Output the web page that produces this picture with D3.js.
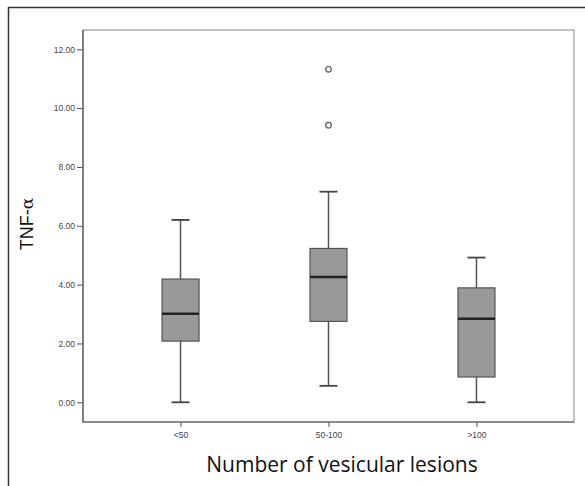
<!DOCTYPE html>
<html><head><meta charset="utf-8">
<script src="https://cdn.jsdelivr.net/npm/d3@7"></script>
<style>body{margin:0;background:#fff}svg{display:block}</style>
</head><body>
<script>
const categories = ["<50", "50-100", ">100"];
const whiskerLow = [0.00, 0.56, 0.00];
const q1 = [2.08, 2.75, 0.86];
const median = [3.01, 4.26, 2.84];
const q3 = [4.19, 5.23, 3.89];
const whiskerHigh = [6.20, 7.16, 4.92];
const outliers = [[], [9.42, 11.32], []];
const yTicks = [0, 2, 4, 6, 8, 10, 12];

const W = 585, H = 486;
const L = 83, R = 574, T = 30, B = 422;
const svg = d3.select("body").append("svg").attr("width", W).attr("height", H);

// outer frame
svg.append("path").attr("d", `M8.5,${H} V7.5 H${W}`).attr("fill", "none").attr("stroke", "#333").attr("stroke-width", 1.5);

const y = d3.scaleLinear().domain([0, 12]).range([402.3, 49.3]);
const x = d3.scalePoint().domain(categories).range([L, R]).padding(0.659);

// plot frame
svg.append("rect").attr("x", L).attr("y", T).attr("width", R - L).attr("height", B - T)
  .attr("fill", "none").attr("stroke", "#999").attr("stroke-width", 1.2);
svg.append("path").attr("d", `M${L},${T} V${B} H${R}`).attr("fill", "none").attr("stroke", "#555").attr("stroke-width", 1.2);

const yAxis = svg.append("g").attr("transform", `translate(${L},0)`)
  .call(d3.axisLeft(y).tickValues(yTicks).tickFormat(d3.format(".2f")).tickSize(6).tickSizeOuter(0));
yAxis.select(".domain").remove();
yAxis.selectAll("line").attr("stroke", "#555");
yAxis.selectAll("text").attr("font-family", "Liberation Sans, Arial, sans-serif").attr("font-size", 8.5).attr("fill", "#444").attr("dx", 1);

const xAxis = svg.append("g").attr("transform", `translate(0,${B})`)
  .call(d3.axisBottom(x).tickSize(5).tickSizeOuter(0));
xAxis.select(".domain").remove();
xAxis.selectAll("line").attr("stroke", "#555");
xAxis.selectAll("text").attr("font-family", "Liberation Sans, Arial, sans-serif").attr("font-size", 8.5).attr("fill", "#444").attr("dy", "0.9em");

const bw = 37, cw = 18;
categories.forEach((c, i) => {
  const cx = x(c);
  const g = svg.append("g");
  g.append("line").attr("x1", cx).attr("x2", cx).attr("y1", y(whiskerLow[i])).attr("y2", y(q1[i])).attr("stroke", "#555").attr("stroke-width", 1.5);
  g.append("line").attr("x1", cx).attr("x2", cx).attr("y1", y(q3[i])).attr("y2", y(whiskerHigh[i])).attr("stroke", "#555").attr("stroke-width", 1.5);
  g.append("line").attr("x1", cx - cw / 2).attr("x2", cx + cw / 2).attr("y1", y(whiskerLow[i])).attr("y2", y(whiskerLow[i])).attr("stroke", "#444").attr("stroke-width", 1.8);
  g.append("line").attr("x1", cx - cw / 2).attr("x2", cx + cw / 2).attr("y1", y(whiskerHigh[i])).attr("y2", y(whiskerHigh[i])).attr("stroke", "#444").attr("stroke-width", 1.8);
  g.append("rect").attr("x", cx - bw / 2).attr("y", y(q3[i])).attr("width", bw).attr("height", y(q1[i]) - y(q3[i]))
    .attr("fill", "#999").attr("stroke", "#555").attr("stroke-width", 1.2);
  g.append("line").attr("x1", cx - bw / 2).attr("x2", cx + bw / 2).attr("y1", y(median[i])).attr("y2", y(median[i])).attr("stroke", "#222").attr("stroke-width", 2.6);
  outliers[i].forEach(v => {
    g.append("circle").attr("cx", cx).attr("cy", y(v)).attr("r", 2.8).attr("fill", "#fff").attr("stroke", "#555").attr("stroke-width", 1.2);
  });
});

// axis titles
const yt = svg.append("text").attr("transform", "translate(33,224) rotate(-90)").attr("text-anchor", "middle")
  .attr("font-family", "Liberation Sans, Arial, sans-serif").attr("font-size", 18).attr("fill", "#111");
yt.append("tspan").text("TNF-");
yt.append("tspan").attr("font-family", "DejaVu Serif, serif").attr("font-size", 17).text("α");

svg.append("text").attr("x", 342).attr("y", 472).attr("text-anchor", "middle")
  .attr("font-family", "Open Sans, sans-serif").attr("font-size", 21).attr("fill", "#111")
  .text("Number of vesicular lesions");
</script>
</body></html>
